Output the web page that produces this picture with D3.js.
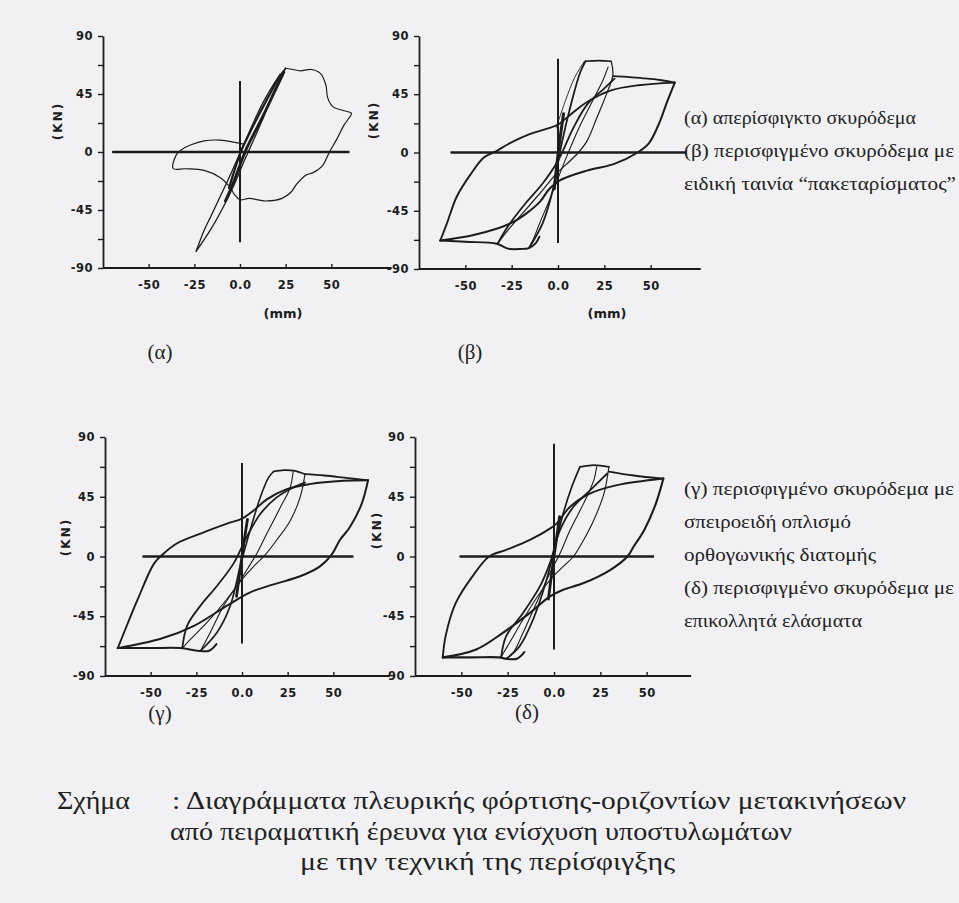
<!doctype html>
<html>
<head>
<meta charset="utf-8">
<style>
    body { margin: 0; background: #f1f1f3; }
    svg { display: block; }
    .serif { font-family: "Liberation Serif", "DejaVu Serif", "Times New Roman", serif; fill: #222; }
    .plot { font-family: "DejaVu Sans", sans-serif; font-weight: bold; fill: #1c1c1c; }
</style>
</head>
<body>
    <div class="container"></div>

    <script src="https://d3js.org/d3.v7.min.js"></script>

    <script>
        // ---- axis values ----
        const yTicks = [90, 45, 0, -45, -90]
        const yMinorTicks = [67.5, 22.5, -22.5, -67.5]
        const xTicks = [-50, -25, 0, 25, 50]
        const xTickLabels = ['-50', '-25', '0.0', '25', '50']
        const panelNames = ['(α)', '(β)', '(γ)', '(δ)']

        // ---- (α) unconfined concrete, [mm, kN] ----
        const alphaZeroH = [-70, 60]
        const alphaZeroV = [-70, 55]
        const alphaBigLoop = [[25,65],[29,64],[33,63],[39,64],[44,61],[47,52],[48,42],[51,35],[57,32],[61,30],[59,25],[57,21],[53,10],[49,0],[45,-11],[40,-16],[36,-18],[31,-25],[28,-31],[23,-36],[14,-38],[5,-36],[0,-37],[-3,-33],[-5.4,-27.6],[-10.7,-20],[-19.6,-14.3],[-30,-13],[-36.6,-12.8],[-34.8,-2],[-32,1.8],[-26.8,5.6],[-19.6,8.7],[-10.7,9.2],[-3.6,7.7],[1.8,6.1]]
        const alphaUp = [[-24,-77],[-16,-60],[-10,-45],[-4,-28],[2,-8],[7,8],[12,24],[18,45],[22,57],[25,65]]
        const alphaDown = [[25,65],[20,56],[14,42],[9,28],[4,12],[-1,-4],[-6,-20],[-12,-38],[-16,-50],[-20,-62],[-24,-77]]
        const alphaCoreUp = [[-8,-38],[-4,-25],[0,-10],[4,4],[9,18],[14,32],[19,47],[24,62]]
        const alphaCoreDown = [[22,60],[16,44],[10,28],[5,14],[1,2],[-3,-14],[-6,-28]]

        // ---- (β) confined, packaging tape ----
        const betaZeroH = [-58, 69.4]
        const betaZeroV = [-70, 72.5]
        const betaOuterUp = [[-63.5,-68],[-60,-55],[-54.6,-34],[-47,-16.5],[-40,-3.8],[-33,1.3],[-27,6.4],[-15.7,14],[-4.6,19],[0,21.6],[6.5,29],[15.7,39],[28.7,48],[43.5,52],[63,54]]
        const betaOuterDown = [[63,54],[58.3,37],[55,24],[49,7],[43,0],[30,-9],[15.6,-14],[1,-21.5],[-4.6,-28],[-9.7,-38],[-17,-47],[-26,-55],[-45,-63.6],[-63.5,-68]]
        const betaTop = [[29.6,59],[37,58.5],[45,57.5],[55,56],[63,54]]
        const betaMidUp = [[-32.4,-70],[-27,-57],[-17.6,-39.4],[-8.3,-24],[0,-6.4],[8.3,19],[15.7,37],[25,49.6],[30.5,57]]
        const betaMidDown = [[28.7,70.5],[29.6,60],[26,44.5],[21,27],[15.7,9],[11,0],[4.6,-9],[-1,-16.5],[-8.3,-29],[-17.6,-44.5],[-27,-60],[-32.4,-70]]
        const betaInnerUp = [[-15.7,-73.8],[-8.3,-54.7],[-2.8,-29],[1.9,6.4],[7.4,39.4],[12,62],[14.8,70.5]]
        const betaInnerDown = [[27,66],[24,55],[18,38],[11,18],[5,-2],[0,-20],[-5,-38],[-10,-55],[-13,-66],[-15.7,-73.8]]
        const betaTopFlat = [[14.8,70.5],[22,71],[28.7,70.5]]
        const betaBottom = [[-63.5,-68],[-50,-69],[-33,-70.5],[-27,-74.3],[-20,-74.5],[-15.7,-73.8],[-12,-70],[-10,-65]]
        const betaFirst = [[-1,19],[4,40],[9,58],[14,70]]
        const betaCore = [[-2,-28],[-0.5,-8],[1,10],[3,30]]

        // ---- (γ) confined, spiral reinforcement ----
        const gammaZeroH = [-54.5, 61]
        const gammaZeroV = [-65.6, 70.5]
        const gammaOuterUp = [[-68,-69],[-64.5,-57],[-57,-32],[-48,-5],[-42.7,2.5],[-35.5,10],[-22.7,17.3],[-8.2,24.8],[0,28.5],[6.4,34.7],[13.6,43],[24.5,50.7],[37,54.5],[55.5,57],[69,57.4]]
        const gammaOuterDown = [[69,57.4],[65.5,39.6],[59,22],[53.6,12.4],[49,1.2],[42.7,-7.4],[31.8,-14.9],[17.3,-21],[4.5,-27],[-8.2,-37],[-26,-52],[-44.5,-62],[-68,-69]]
        const gammaTop = [[34.5,62],[45,61],[58,59],[69,57.4]]
        const gammaMidUp = [[-32.7,-69],[-30,-52],[-22.7,-37],[-13.6,-22],[-4.5,-5],[2.7,15],[10,32],[19,44.5],[28,52],[34.5,55.7]]
        const gammaMidDown = [[34.5,62],[31.8,44.5],[26.4,27],[19,12.4],[12.7,1.2],[6.4,-7.4],[0,-17.3],[-8.2,-32],[-19,-49.5],[-28,-62],[-32.7,-69]]
        const gammaInnerUp = [[-22.7,-71],[-13.6,-57],[-6.4,-37],[-1,-7.4],[4.5,20],[10,44.5],[14.5,59.4],[17.3,64]]
        const gammaInnerDown = [[28,64],[26.4,52],[21,37],[13.6,17.3],[8.2,2.5],[2.7,-10],[-2.7,-22],[-10,-37],[-17.3,-57],[-22.7,-71]]
        const gammaTopFlat = [[17.3,64],[23,65],[29,64.5],[34.5,62]]
        const gammaBottom = [[-68,-69],[-50,-69],[-33.6,-69],[-24.5,-71],[-18,-71],[-14,-66]]
        const gammaCore = [[-3,-30],[-1,-10],[1,10],[3,28]]

        // ---- (δ) confined, bonded steel plates ----
        const deltaZeroH = [-51, 54]
        const deltaZeroV = [-70, 85]
        const deltaOuterUp = [[-60,-76],[-58.5,-60],[-53,-35],[-44,-15],[-35,0],[-25.8,5],[-13,12.5],[-2.2,21],[1.5,25],[8.7,37.5],[19.6,47.5],[34,53.7],[59,58.7]]
        const deltaOuterDown = [[59,58.7],[55,40],[48.7,20],[43,7.5],[39.6,0],[30.5,-10],[16,-20],[5,-25],[-2.2,-30],[-13,-42.5],[-27.6,-57.5],[-42,-70],[-60,-76]]
        const deltaTop = [[29.6,64],[43,61],[59,58.7]]
        const deltaMidUp = [[-28.5,-75.5],[-25.8,-60],[-16.7,-42.5],[-7.6,-22.5],[-2.2,-5],[3.3,20],[10.5,37.5],[19.6,50],[28.7,62.5]]
        const deltaMidDown = [[29.6,67.5],[27,47.5],[21.5,27.5],[16,12.5],[10.5,0],[5,-7.5],[-0.4,-15],[-7.6,-27.5],[-16.7,-47.5],[-24,-65],[-28.5,-75.5]]
        const deltaInnerUp = [[-25.8,-77],[-18.5,-67.5],[-11.3,-47.5],[-4,-17.5],[0.5,7.5],[5,32.5],[9.6,52.5],[14,67.5]]
        const deltaInnerDown = [[23,67.5],[21.5,57.5],[16,40],[8.7,20],[3.3,2.5],[-2.2,-12.5],[-9.5,-35],[-16.7,-57.5],[-22,-72.5],[-25.8,-77]]
        const deltaTopFlat = [[14,67.5],[20,68.7],[25,68.5],[29.6,67.5]]
        const deltaBottom = [[-60,-76],[-45,-76],[-29.5,-76],[-25.8,-77],[-20,-77],[-16,-72]]
        const deltaCore = [[-3,-32],[-1,-10],[1,10],[3,30]]

        // ---- texts ----
        const legendTop = ['(α) απερίσφιγκτο σκυρόδεμα', '(β) περισφιγμένο σκυρόδεμα με', 'ειδική ταινία “πακεταρίσματος”']
        const legendBottom = ['(γ) περισφιγμένο σκυρόδεμα με', 'σπειροειδή οπλισμό', 'ορθογωνικής διατομής', '(δ) περισφιγμένο σκυρόδεμα με', 'επικολλητά ελάσματα']
        const captionLabel = 'Σχήμα'
        const captionLines = [': Διαγράμματα πλευρικής φόρτισης-οριζοντίων μετακινήσεων', 'από πειραματική έρευνα για ενίσχυση υποστυλωμάτων', 'με την τεχνική της περίσφιγξης']

        const W = 959, H = 903
        const ink = '#1c1c1c'
        const svg = d3.select('.container').append('svg').attr('width', W).attr('height', H)

        // second value of each curve pair = stroke width
        const panels = [
            { left: 103, x0: 240, top: 36, bottom: 268, xEnd: 83, zh: alphaZeroH, zv: alphaZeroV, kn: [58, 121], mm: [283, 313], name: [160, 352],
              curves: [[alphaBigLoop, 1.2], [alphaUp, 1.3], [alphaDown, 1.3], [alphaCoreUp, 2.8], [alphaCoreDown, 2.2]] },
            { left: 419, x0: 558, top: 36, bottom: 269, xEnd: 77, zh: betaZeroH, zv: betaZeroV, kn: [374, 120], mm: [607, 313], name: [470, 352],
              curves: [[betaOuterUp, 1.9], [betaOuterDown, 2], [betaTop, 1.8], [betaMidUp, 1.8], [betaMidDown, 1.2], [betaInnerUp, 1.8], [betaInnerDown, 1.1], [betaTopFlat, 1.7], [betaBottom, 1.9], [betaFirst, 0.9], [betaCore, 3]] },
            { left: 105, x0: 242, top: 437, bottom: 676, xEnd: 81, zh: gammaZeroH, zv: gammaZeroV, kn: [66, 537], mm: null, name: [160, 713],
              curves: [[gammaOuterUp, 1.9], [gammaOuterDown, 2], [gammaTop, 1.8], [gammaMidUp, 1.8], [gammaMidDown, 1.1], [gammaInnerUp, 1.6], [gammaInnerDown, 1.1], [gammaTopFlat, 1.7], [gammaBottom, 2], [gammaCore, 2.8]] },
            { left: 415, x0: 554, top: 437, bottom: 676, xEnd: 74, zh: deltaZeroH, zv: deltaZeroV, kn: [377, 530], mm: null, name: [527, 712],
              curves: [[deltaOuterUp, 1.9], [deltaOuterDown, 2.1], [deltaTop, 1.8], [deltaMidUp, 1.8], [deltaMidDown, 1.1], [deltaInnerUp, 1.7], [deltaInnerDown, 1.1], [deltaTopFlat, 1.7], [deltaBottom, 2.1], [deltaCore, 2.8]] }
        ]

        panels.forEach((p, i) => {
            const x = d3.scaleLinear().domain([-75, 0]).range([p.left, p.x0])
            const y = d3.scaleLinear().domain([-90, 90]).range([p.bottom, p.top])
            const g = svg.append('g')

            // y axis
            const ya = g.append('g').attr('transform', `translate(${p.left},0)`)
                .call(d3.axisLeft(y).tickValues(yTicks.concat(yMinorTicks)).tickSize(5).tickSizeOuter(0).tickPadding(5)
                    .tickFormat(d => yTicks.includes(d) ? d : ''))
            ya.select('.domain').attr('stroke', ink).attr('stroke-width', 1.8)
            ya.selectAll('.tick line').attr('stroke', ink).attr('stroke-width', 1.4)

            // x axis
            const xa = g.append('g').attr('transform', `translate(0,${p.bottom})`)
                .call(d3.axisBottom(x).tickValues(xTicks).tickSize(-4).tickSizeOuter(0).tickPadding(13)
                    .tickFormat((d, j) => xTickLabels[j]))
            xa.select('.domain').remove()
            xa.selectAll('.tick line').attr('stroke', ink).attr('stroke-width', 1.4)
            g.append('line').attr('x1', x(-75)).attr('x2', x(p.xEnd)).attr('y1', y(-90)).attr('y2', y(-90))
                .attr('stroke', ink).attr('stroke-width', 2)

            g.selectAll('.tick text').attr('class', 'plot').attr('font-size', 11.5).attr('letter-spacing', 0.5)
                .attr('font-family', null).attr('fill', null)

            // zero reference lines
            g.append('line').attr('x1', x(p.zh[0])).attr('x2', x(p.zh[1])).attr('y1', y(0)).attr('y2', y(0))
                .attr('stroke', ink).attr('stroke-width', 2.6)
            g.append('line').attr('x1', x(0)).attr('x2', x(0)).attr('y1', y(p.zv[0])).attr('y2', y(p.zv[1]))
                .attr('stroke', ink).attr('stroke-width', 2)

            // hysteresis branches
            const line = d3.line().x(d => x(d[0])).y(d => y(d[1])).curve(d3.curveCatmullRom.alpha(0.5))
            g.selectAll('path.loop').data(p.curves).enter().append('path')
                .attr('class', 'loop')
                .attr('d', d => line(d[0]))
                .attr('fill', 'none')
                .attr('stroke', ink)
                .attr('stroke-width', d => d[1])
                .attr('stroke-linejoin', 'round')
                .attr('stroke-linecap', 'round')

            // unit labels
            g.append('text').attr('class', 'plot').attr('transform', `translate(${p.kn[0]},${p.kn[1]}) rotate(-90)`)
                .attr('text-anchor', 'middle').attr('dy', '0.35em').attr('font-size', 12)
                .attr('letter-spacing', 2).text('(KN)')
            if (p.mm) {
                g.append('text').attr('class', 'plot').attr('x', p.mm[0]).attr('y', p.mm[1]).attr('dy', '0.35em')
                    .attr('text-anchor', 'middle').attr('font-size', 13).text('(mm)')
            }
            g.append('text').attr('class', 'serif').attr('x', p.name[0]).attr('y', p.name[1]).attr('dy', '0.35em')
                .attr('text-anchor', 'middle').attr('font-size', 21).text(panelNames[i])
        })

        // legend texts (widths measured on the scan)
        const legWA = [232, 270, 272]
        svg.selectAll('text.legA').data(legendTop).enter().append('text').attr('class', 'serif legA')
            .attr('x', 684).attr('y', (d, i) => 124 + i * 33).attr('font-size', 18)
            .attr('textLength', (d, i) => legWA[i]).attr('lengthAdjust', 'spacingAndGlyphs')
            .text(d => d)
        const legWB = [270, 167, 192, 270, 178]
        svg.selectAll('text.legB').data(legendBottom).enter().append('text').attr('class', 'serif legB')
            .attr('x', 684).attr('y', (d, i) => 495 + i * 33).attr('font-size', 18)
            .attr('textLength', (d, i) => legWB[i]).attr('lengthAdjust', 'spacingAndGlyphs')
            .text(d => d)

        // caption
        const capX = [172, 170, 300]
        const capY = [809, 840, 870]
        const capW = [734, 622, 375]
        svg.selectAll('text.cap').data(captionLines).enter().append('text').attr('class', 'serif cap')
            .attr('x', (d, i) => capX[i]).attr('y', (d, i) => capY[i]).attr('font-size', 26)
            .attr('textLength', (d, i) => capW[i]).attr('lengthAdjust', 'spacingAndGlyphs')
            .text(d => d)
        svg.append('text').attr('class', 'serif').attr('x', 57).attr('y', capY[0]).attr('font-size', 26)
            .attr('textLength', 73).attr('lengthAdjust', 'spacingAndGlyphs').text(captionLabel)
    </script>
</body>
</html>
